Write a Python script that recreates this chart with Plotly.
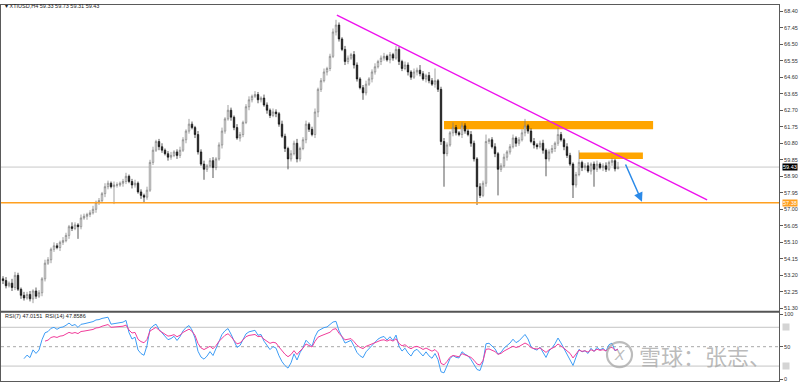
import plotly.graph_objects as go

# ---------------- data ----------------
first_open = 53.0
closes = [
    52.9, 52.6, 52.75, 52.5, 53.2, 52.4, 52.05, 51.9, 52.1, 51.85,
    52.3, 52.0, 52.2, 53.0, 53.9, 54.1, 54.7, 54.9, 54.8, 55.1,
    55.2, 55.5, 56.0, 55.9, 56.1, 56.0, 56.5, 56.6, 56.7, 56.8,
    57.0, 57.4, 57.5, 57.9, 58.3, 58.5, 58.3, 58.4, 58.4, 58.5,
    58.6, 58.9, 58.6, 58.4, 58.5, 58.0, 57.8, 57.7, 58.1, 59.7,
    60.4, 60.9, 60.6, 60.4, 60.2, 60.0, 60.1, 60.3, 60.1, 60.4,
    61.0, 61.5, 61.9, 61.7, 61.3, 60.3, 59.6, 59.3, 59.5, 59.8,
    59.4, 59.9, 60.7, 61.5, 62.2, 62.7, 62.3, 61.7, 61.1, 61.3,
    62.0, 62.9, 63.3, 63.5, 63.6, 63.3, 63.4, 63.0, 62.7, 62.4,
    62.6, 62.5, 61.9, 61.2, 60.5, 59.9, 60.2, 60.8, 59.9, 60.5,
    61.0, 61.9, 61.6, 61.3, 62.6, 63.9, 64.4, 64.9, 65.1, 65.8,
    67.2, 67.6, 66.8, 66.2, 65.5, 65.7, 65.9, 65.3, 64.5, 64.0,
    63.7, 64.2, 64.5, 64.9, 65.2, 65.5, 65.7, 65.8, 65.6, 65.9,
    65.7, 66.2, 65.5, 65.1, 65.3, 64.9, 64.6, 64.9, 65.0, 64.8,
    64.5, 64.7, 64.4, 64.2, 64.4, 63.9, 60.9, 60.2, 60.7, 61.4,
    61.7, 61.4, 61.3, 61.8, 61.5, 61.3, 60.8, 59.9, 58.3, 57.8,
    58.5, 60.9, 61.0, 60.6, 60.2, 59.3, 59.5, 60.0, 60.3, 60.6,
    61.1, 60.8, 61.0, 61.4, 61.8, 61.5, 60.9, 60.7, 60.6, 60.8,
    60.4, 59.9, 60.3, 60.5, 60.8, 61.3, 61.0, 60.6, 60.1, 59.6,
    58.4, 59.0, 59.7, 59.4, 59.5, 59.2, 59.6, 59.3, 59.6, 59.4,
    59.5, 59.3, 59.7, 59.8, 59.33, 59.43,
]
upper_wick = [
    0.15, 0.20, 0.10, 0.25, 0.20, 0.15, 0.10, 0.20, 0.15, 0.20,
    0.10, 0.20, 0.15, 0.10, 0.20, 0.15, 0.10, 0.20, 0.15, 0.10,
    0.20, 0.15, 0.10, 0.25, 0.15, 0.10, 0.20, 0.15, 0.10, 0.15,
    0.20, 0.10, 0.15, 0.10, 0.20, 0.15, 0.10, 0.20, 0.15, 0.10,
    0.15, 0.20, 0.10, 0.15, 0.20, 0.10, 0.15, 0.10, 0.20, 0.15,
    0.20, 0.10, 0.15, 0.20, 0.10, 0.15, 0.20, 0.10, 0.15, 0.20,
    0.15, 0.10, 0.30, 0.15, 0.10, 0.20, 0.15, 0.20, 0.10, 0.15,
    0.20, 0.10, 0.15, 0.20, 0.10, 0.30, 0.15, 0.10, 0.20, 0.15,
    0.10, 0.15, 0.20, 0.10, 0.20, 0.15, 0.10, 0.20, 0.15, 0.10,
    0.20, 0.15, 0.10, 0.20, 0.15, 0.10, 0.20, 0.15, 0.25, 0.10,
    0.15, 0.20, 0.10, 0.15, 0.20, 0.10, 0.15, 0.20, 0.10, 0.15,
    0.20, 0.30, 0.15, 0.10, 0.20, 0.15, 0.10, 0.20, 0.15, 0.10,
    0.15, 0.20, 0.10, 0.15, 0.20, 0.10, 0.15, 0.20, 0.10, 0.15,
    0.10, 0.20, 0.15, 0.10, 0.20, 0.15, 0.10, 0.20, 0.15, 0.30,
    0.15, 0.10, 0.20, 0.15, 0.70, 0.10, 0.15, 0.20, 0.15, 0.10,
    0.30, 0.15, 0.10, 0.20, 0.15, 0.10, 0.20, 0.15, 0.10, 0.20,
    0.15, 0.40, 0.10, 0.15, 0.20, 0.10, 0.15, 0.20, 0.10, 0.15,
    0.20, 0.10, 0.15, 0.20, 0.40, 0.10, 0.15, 0.20, 0.10, 0.15,
    0.20, 0.10, 0.15, 0.20, 0.10, 0.40, 0.15, 0.10, 0.20, 0.15,
    0.10, 0.15, 0.70, 0.10, 0.15, 0.20, 0.10, 0.15, 0.20, 0.10,
    0.15, 0.20, 0.10, 0.15, 0.10, 0.30,
]
lower_wick = [
    0.20, 0.15, 0.10, 0.20, 0.15, 0.10, 0.20, 0.15, 0.10, 0.15,
    0.25, 0.15, 0.10, 0.20, 0.15, 0.10, 0.20, 0.15, 0.10, 0.20,
    0.15, 0.10, 0.20, 0.15, 0.10, 0.70, 0.15, 0.10, 0.20, 0.15,
    0.10, 0.20, 0.15, 0.10, 0.20, 0.15, 0.10, 1.00, 0.15, 0.10,
    0.20, 0.15, 0.10, 0.20, 0.15, 0.10, 0.20, 0.30, 0.15, 0.10,
    0.15, 0.10, 0.20, 0.15, 0.10, 0.20, 0.15, 0.10, 0.20, 0.15,
    0.10, 0.20, 0.15, 0.10, 0.20, 0.15, 0.10, 0.60, 0.15, 0.10,
    0.60, 0.15, 0.10, 0.20, 0.15, 0.10, 0.20, 0.15, 0.10, 0.20,
    0.15, 0.10, 0.20, 0.15, 0.10, 0.20, 0.15, 0.10, 0.20, 0.15,
    0.10, 0.20, 0.15, 0.10, 0.20, 0.60, 0.15, 0.10, 0.20, 0.15,
    0.10, 0.20, 0.15, 0.10, 0.20, 0.30, 0.15, 0.10, 0.20, 0.15,
    0.10, 0.20, 0.15, 0.10, 0.20, 0.15, 0.10, 0.20, 0.15, 0.10,
    0.40, 0.15, 0.10, 0.20, 0.15, 0.10, 0.20, 0.15, 0.10, 0.20,
    0.15, 0.10, 0.20, 0.15, 0.10, 0.20, 0.15, 0.10, 0.20, 0.15,
    0.10, 0.20, 0.15, 0.10, 0.20, 0.15, 0.20, 1.90, 0.15, 0.10,
    0.20, 0.15, 0.10, 0.20, 0.15, 0.10, 0.20, 0.15, 1.05, 0.15,
    0.10, 0.20, 0.15, 0.10, 0.20, 1.50, 0.15, 0.10, 0.20, 0.15,
    0.10, 0.20, 0.15, 0.10, 0.20, 0.15, 0.10, 0.20, 0.15, 0.10,
    0.20, 1.00, 0.15, 0.10, 0.20, 0.15, 0.10, 0.20, 0.15, 0.10,
    0.75, 0.15, 0.10, 0.20, 0.15, 0.10, 0.20, 1.00, 0.15, 0.10,
    0.20, 0.15, 0.10, 0.20, 0.15, 0.02,
]

price_ticks = [51.30, 52.25, 53.20, 54.15, 55.10, 56.05, 57.00, 57.95, 58.90,
               59.85, 60.80, 61.75, 62.70, 63.65, 64.60, 65.55, 66.50, 67.45, 68.40]
rsi_ticks = [0, 50, 100]

# drawing objects on the chart (bar index, price)
trend_x = [111.3, 234.7]
trend_y = [68.17, 57.54]
zone_upper_x = [147.0, 216.7]
zone_upper_y = [61.60, 62.08]
zone_lower_x = [192.0, 213.3]
zone_lower_y = [59.89, 60.27]
arrow_x = [207.3, 213.0]
arrow_y = [59.66, 57.44]
support_level = 57.38
last_price = 59.43
ohlc_text = "59.33 59.73 59.31 59.43"
rsi7_text = "47.0151"
rsi14_text = "47.8586"

# ---------------- derived series ----------------
n = len(closes)
bars = list(range(n))
opens = [first_open] + closes[:-1]
highs = [max(o, c) + u for o, c, u in zip(opens, closes, upper_wick)]
lows = [min(o, c) - d for o, c, d in zip(opens, closes, lower_wick)]


def rsi(values, period):
    out = [None] * len(values)
    gains, losses = [], []
    for k in range(1, len(values)):
        ch = values[k] - values[k - 1]
        gains.append(max(ch, 0.0))
        losses.append(max(-ch, 0.0))
    if len(gains) < period:
        return out
    ag = sum(gains[:period]) / period
    al = sum(losses[:period]) / period
    out[period] = 100.0 if al == 0 else 100 - 100 / (1 + ag / al)
    for k in range(period, len(gains)):
        ag = (ag * (period - 1) + gains[k]) / period
        al = (al * (period - 1) + losses[k]) / period
        out[k + 1] = 100.0 if al == 0 else 100 - 100 / (1 + ag / al)
    return out


rsi7 = rsi(closes, 7)
rsi14 = rsi(closes, 14)

# ---------------- figure ----------------
W, H = 800, 384
px = lambda v: v / W
py = lambda v: 1 - v / H

fig = go.Figure()

fig.add_trace(go.Candlestick(
    x=bars, open=opens, high=highs, low=lows, close=closes,
    increasing=dict(line=dict(color="#7a7a7a", width=0.7), fillcolor="#ffffff"),
    decreasing=dict(line=dict(color="#111111", width=0.7), fillcolor="#111111"),
    whiskerwidth=0, showlegend=False, hoverinfo="skip",
    xaxis="x", yaxis="y",
))

fig.add_trace(go.Scatter(
    x=trend_x, y=trend_y, mode="lines",
    line=dict(color="#ee11ee", width=1.4), showlegend=False, hoverinfo="skip",
    xaxis="x", yaxis="y",
))

fig.add_trace(go.Scatter(
    x=bars, y=rsi7, mode="lines", line=dict(color="#3d9cf5", width=1),
    showlegend=False, hoverinfo="skip", xaxis="x2", yaxis="y2",
))
fig.add_trace(go.Scatter(
    x=bars, y=rsi14, mode="lines", line=dict(color="#f03c9a", width=1),
    showlegend=False, hoverinfo="skip", xaxis="x2", yaxis="y2",
))

shapes = []
for zx, zy in ((zone_upper_x, zone_upper_y), (zone_lower_x, zone_lower_y)):
    shapes.append(dict(type="rect", xref="x", yref="y", x0=zx[0], x1=zx[1],
                       y0=zy[0], y1=zy[1], fillcolor="#ffa500",
                       line=dict(width=0), layer="below"))
shapes.append(dict(type="line", xref="x domain", yref="y", x0=0, x1=1,
                   y0=last_price, y1=last_price,
                   line=dict(color="#c8c8c8", width=1), layer="below"))
shapes.append(dict(type="line", xref="x domain", yref="y", x0=0, x1=1,
                   y0=support_level, y1=support_level,
                   line=dict(color="#ffa020", width=1.6), layer="above"))
for lv in (80, 20):
    shapes.append(dict(type="line", xref="x2 domain", yref="y2", x0=0, x1=1,
                       y0=lv, y1=lv, line=dict(color="#c4c4c4", width=1), layer="below"))
shapes.append(dict(type="line", xref="x2 domain", yref="y2", x0=0, x1=1,
                   y0=50, y1=50, line=dict(color="#a8a8a8", width=1, dash="dot"), layer="below"))
shapes.append(dict(type="line", xref="paper", yref="paper", x0=0, x1=px(779),
                   y0=py(312.5), y1=py(312.5), line=dict(color="#555555", width=2)))
shapes.append(dict(type="circle", xref="paper", yref="paper",
                   x0=px(607), x1=px(632), y0=py(368), y1=py(343),
                   line=dict(color="rgba(165,165,165,0.75)", width=2.2)))
fig.update_layout(shapes=shapes)

annotations = [
    dict(x=arrow_x[1], y=arrow_y[1], ax=arrow_x[0], ay=arrow_y[0],
         xref="x", yref="y", axref="x", ayref="y", text="", showarrow=True,
         arrowhead=2, arrowsize=1.2, arrowwidth=1.5, arrowcolor="#2b8ae8"),
    dict(x=px(3), y=py(5), xref="paper", yref="paper", xanchor="left", yanchor="middle",
         text="▾ XTIUSD,H4 " + ohlc_text, showarrow=False,
         font=dict(family="Liberation Sans", size=5.5, color="#222222")),
    dict(x=px(3), y=py(316.5), xref="paper", yref="paper", xanchor="left", yanchor="middle",
         text="RSI(7) " + rsi7_text + "  RSI(14) " + rsi14_text, showarrow=False,
         font=dict(family="Liberation Sans", size=5.5, color="#222222")),
    dict(x=px(782), y=last_price, xref="paper", yref="y", xanchor="left", yanchor="middle",
         text="%.2f" % last_price, showarrow=False, bgcolor="#000000", borderpad=0,
         font=dict(family="Liberation Sans", size=5.5, color="#ffffff")),
    dict(x=px(782), y=support_level, xref="paper", yref="y", xanchor="left", yanchor="middle",
         text="%.2f" % support_level, showarrow=False, bgcolor="#ffa020", borderpad=0,
         font=dict(family="Liberation Sans", size=5.5, color="#ffffff")),
    dict(x=px(637), y=py(356), xref="paper", yref="paper", xanchor="left", yanchor="middle",
         text="雪球：张志、", showarrow=False,
         font=dict(family="Noto Sans CJK SC", size=22, color="rgba(165,165,165,0.75)")),
    dict(x=px(619.5), y=py(355.5), xref="paper", yref="paper", xanchor="center", yanchor="middle",
         text="<i>X</i>", showarrow=False,
         font=dict(family="DejaVu Sans", size=14, color="rgba(165,165,165,0.75)")),
]
for lv in (80, 20):
    annotations.append(dict(x=px(782), y=lv, xref="paper", yref="y2", xanchor="left",
                            yanchor="middle", text="&nbsp;&nbsp;&nbsp;&nbsp;", showarrow=False,
                            bgcolor="#d4d4d4", borderpad=0,
                            font=dict(family="Liberation Sans", size=5.5, color="#d4d4d4")))
fig.update_layout(annotations=annotations)

x_range = [-0.667, 258.667]
axis_line = "#5a5a5a"
fig.update_layout(
    width=W, height=H,
    margin=dict(l=0, r=0, t=0, b=0),
    paper_bgcolor="#ffffff", plot_bgcolor="#ffffff",
    showlegend=False,
    xaxis=dict(domain=[px(1), px(779)], range=x_range, anchor="y",
               showticklabels=False, showgrid=False, zeroline=False,
               showline=True, mirror=True, linecolor=axis_line, linewidth=1,
               rangeslider=dict(visible=False), ticks=""),
    yaxis=dict(domain=[py(312), py(4)], range=[51.128, 68.755], anchor="x",
               side="right", tickvals=price_ticks,
               ticktext=["%.2f" % t for t in price_ticks],
               ticks="outside", ticklen=3, tickcolor=axis_line,
               tickfont=dict(family="Liberation Sans", size=5.5, color="#333333"),
               showgrid=False, zeroline=False, showline=True, mirror=True,
               linecolor=axis_line, linewidth=1),
    xaxis2=dict(domain=[px(1), px(779)], range=x_range, anchor="y2", matches="x",
                showticklabels=False, showgrid=False, zeroline=False,
                showline=True, mirror=True, linecolor=axis_line, linewidth=1, ticks=""),
    yaxis2=dict(domain=[py(382), py(313)], range=[-3.08, 103.07], anchor="x2",
                side="right", tickvals=rsi_ticks, ticktext=[str(t) for t in rsi_ticks],
                ticks="outside", ticklen=3, tickcolor=axis_line,
                tickfont=dict(family="Liberation Sans", size=5.5, color="#333333"),
                showgrid=False, zeroline=False, showline=True, mirror=True,
                linecolor=axis_line, linewidth=1),
)

fig.write_html(
    "out.html",
    config={"displayModeBar": False},
    post_script="document.body.style.margin='0';document.body.style.overflow='hidden';",
)
